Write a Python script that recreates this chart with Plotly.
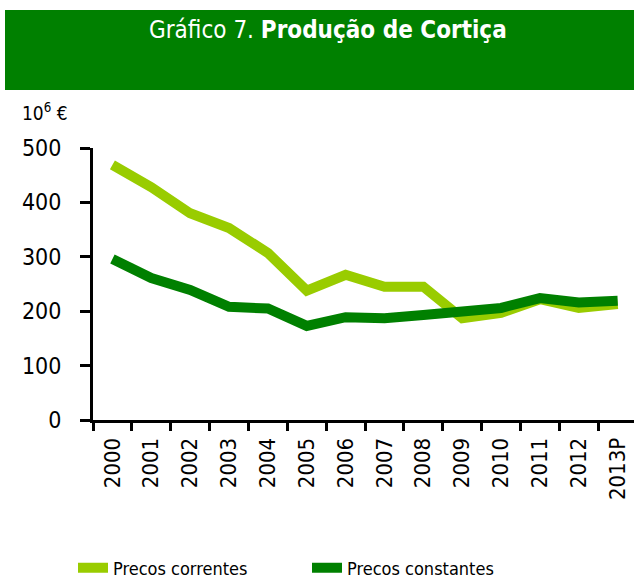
import plotly.graph_objects as go

years = ["2000", "2001", "2002", "2003", "2004", "2005", "2006", "2007",
         "2008", "2009", "2010", "2011", "2012", "2013P"]
precos_correntes = [469, 428, 380, 353, 307, 238, 267, 245, 245, 187, 197, 222, 206, 213]
precos_constantes = [296, 261, 239, 208, 205, 173, 189, 187, 193, 198, 206, 224, 216, 219]

FONT = "DejaVu Sans Condensed, DejaVu Sans"
W, H = 634, 579
L, T, R, B = 93, 148, 0, 159
plot_w = W - L - R
plot_h = H - T - B


def px(x):
    return (x - L) / plot_w


def py(y):
    return (H - B - y) / plot_h


fig = go.Figure()
fig.add_trace(go.Scatter(x=years, y=precos_correntes, mode="lines", name="Precos correntes",
                         line=dict(color="#99CC00", width=10), legend="legend"))
fig.add_trace(go.Scatter(x=years, y=precos_constantes, mode="lines", name="Precos constantes",
                         line=dict(color="#008000", width=10), legend="legend2"))

legend_common = dict(yanchor="middle", xanchor="left", font=dict(size=18, family=FONT),
                     bgcolor="rgba(0,0,0,0)", borderwidth=0, itemwidth=30)

fig.update_layout(
    width=W, height=H,
    margin=dict(l=L, r=R, t=T, b=B, autoexpand=False),
    paper_bgcolor="white", plot_bgcolor="white",
    font=dict(family=FONT, color="black"),
    showlegend=True,
    legend=dict(x=px(73), y=py(568), **legend_common),
    legend2=dict(x=px(307), y=py(568), **legend_common),
    xaxis=dict(type="category", range=[-0.5, 13.42], showline=True, linecolor="black", linewidth=3,
               ticks="outside", tickson="boundaries", ticklen=8, tickwidth=3, tickcolor="black",
               tickangle=-90, tickfont=dict(size=22, family=FONT), ticklabelstandoff=6,
               showgrid=False, zeroline=False),
    yaxis=dict(range=[0, 500], tickvals=[0, 100, 200, 300, 400, 500], showline=True,
               linecolor="black", linewidth=3, ticks="outside", ticklen=10, tickwidth=3,
               tickcolor="black", tickfont=dict(size=23, family=FONT), ticklabelstandoff=14,
               showgrid=False, zeroline=False),
)

fig.add_shape(type="rect", xref="paper", yref="paper", x0=px(5), x1=px(634), y0=py(90), y1=py(10),
              fillcolor="#008000", line_width=0, layer="below")
fig.add_annotation(xref="paper", yref="paper", x=px(328), y=py(30), xanchor="center", yanchor="middle",
                   text="Gráfico 7. <b>Produção de Cortiça</b>", showarrow=False,
                   font=dict(size=24, color="white", family=FONT))
fig.add_annotation(xref="paper", yref="paper", x=px(20), y=py(112), xanchor="left", yanchor="middle",
                   text="10<sup>6</sup> €", showarrow=False, font=dict(size=19, family=FONT))

fig.write_html("out.html", config={"displayModeBar": False},
               post_script="document.body.style.margin='0';")
